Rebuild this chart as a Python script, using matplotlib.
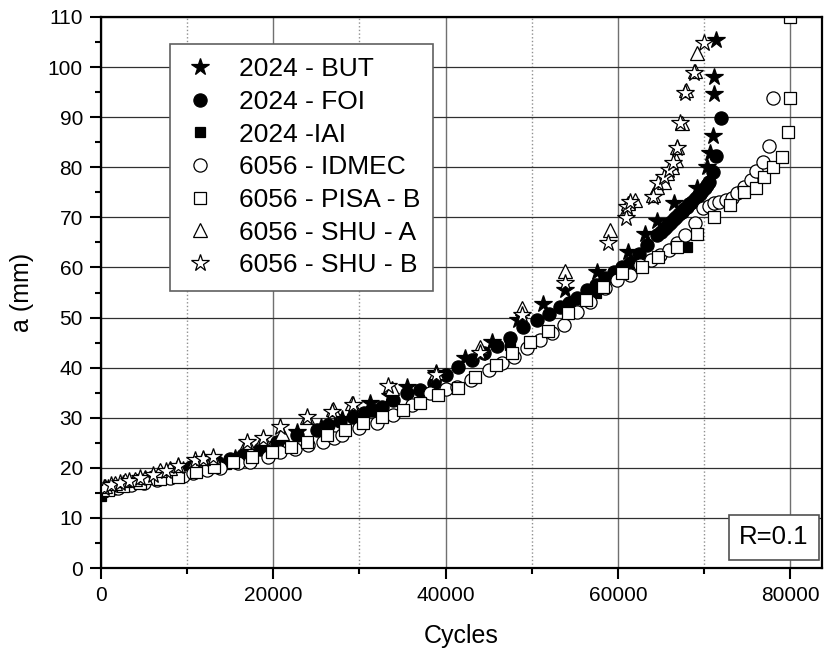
import numpy as np
import matplotlib
matplotlib.use("Agg")
import matplotlib.pyplot as plt
from matplotlib.ticker import MultipleLocator

plt.rcParams['font.family'] = ['Liberation Sans', 'DejaVu Sans']

# crack length a (mm) vs cycles (cycles in thousands)
but_x = [0.8, 2.5, 4.5, 7, 9.5, 12.5, 15.5, 18.5, 20.5, 22.8, 25.5, 28, 31.2, 33.5, 35.5, 38.9, 42.3,
         45.4, 48.4, 51.3, 53.9, 57.6, 61.2, 63.1, 64.6, 66.5, 69.2, 70.3, 70.7, 71.0, 71.2, 71.2, 71.4]
but_y = [16.0, 16.8, 17.6, 18.6, 19.6, 20.8, 22.0, 23.6, 24.8, 27.1, 28.2, 29.8, 32.9, 34.3, 36.1, 38.9, 41.9,
         45.1, 49.5, 52.7, 55.5, 59.1, 63.1, 66.7, 69.3, 72.8, 75.8, 80.0, 82.8, 86.2, 94.6, 98.0, 105.4]

foi_x = [0.3, 1.5, 3, 4.5, 6, 7.5, 9, 10.5, 12, 13.5, 15, 16.5, 18.5, 20.4, 22.8, 25.1, 26.4, 27.8, 29.3, 30.5,
         31.5, 32.6, 33.9, 35.5, 37, 38.6, 40, 41.5, 43.1, 44.5, 46, 47.5, 49, 50.6, 52, 53.3, 54.3, 55.3, 56.4, 57.5,
         58.5, 59.5, 60.5, 61.4, 62.5, 63.4, 64.6, 65.0, 65.3, 65.6, 65.9, 66.2, 66.5, 66.8, 67.1, 67.4, 67.7, 68.0,
         68.3, 68.6, 68.9, 69.2, 69.5, 69.8, 70.1, 70.4, 70.6, 71.0, 71.4, 72.0]
foi_y = [15.3, 16.0, 16.8, 17.5, 18.1, 18.8, 19.5, 20.1, 20.7, 21.2, 21.8, 22.6, 23.8, 25.1, 26.5, 27.5, 28.5, 29.3,
         30.1, 31.0, 31.6, 32.1, 33.5, 34.9, 35.5, 36.9, 38.5, 40.1, 41.5, 43.0, 44.3, 45.9, 48.1, 49.5, 50.8, 52.1,
         53.0, 53.9, 55.5, 56.5, 57.8, 59.1, 60.0, 60.8, 62.7, 64.5, 66.5, 67.1, 67.6, 68.1, 68.6, 69.1, 69.6, 70.1,
         70.6, 71.1, 71.6, 72.1, 72.6, 73.1, 73.6, 74.1, 74.7, 75.2, 75.8, 76.4, 77.0, 79.0, 82.2, 89.8]

iai_x = [0, 14.5, 30.0, 47.5, 57.5, 68.0]
iai_y = [14.3, 20.8, 28.6, 44.5, 55.0, 64.1]

idmec_x = [0.5, 2, 3.5, 5, 6.5, 8, 9.5, 10.7, 12.3, 13.8, 15.9, 17.3, 19.4, 20.8, 22.5, 24, 25.8, 27, 28, 29.9,
           32, 33.9, 36.1, 38.2, 40, 41.3, 42.9, 45, 46.6, 47.9, 49.5, 51, 52.3, 53.7, 55.3, 56.8, 58.5, 59.9, 61.4,
           62.6, 63.8, 64.9, 65.9, 66.9, 67.8, 69, 69.9, 70.6, 71.2, 71.8, 72.5, 73.2, 73.8, 74.6, 75.4, 76, 76.8,
           77.5, 78]
idmec_y = [15.5, 16.0, 16.5, 17.0, 17.5, 17.9, 18.3, 19.0, 19.6, 20.0, 20.9, 21.2, 22.2, 23.2, 23.8, 24.5, 25.1,
           26.0, 26.5, 27.9, 28.9, 30.5, 32.5, 34.9, 35.8, 36.1, 37.5, 39.5, 40.9, 42.1, 43.9, 45.5, 47.0, 48.5,
           51.1, 53.1, 55.9, 57.5, 58.5, 60.5, 61.5, 62.5, 63.5, 64.9, 66.5, 68.9, 71.8, 72.3, 72.8, 73.1, 73.5,
           73.8, 74.8, 76.0, 77.4, 79.2, 81.0, 84.3, 93.8]

pisa_x = [0.8, 2.5, 4.5, 6.9, 8.9, 11, 13.1, 15.3, 17.5, 19.9, 22, 23.9, 26.2, 28.3, 30.4, 32.6, 35.1, 37, 39.1,
          41.5, 43.4, 45.8, 47.7, 49.8, 51.9, 54.2, 56.3, 58.3, 60.5, 62.8, 64.7, 66.9, 69.2, 71.2, 73, 74.6, 76,
          77, 78, 79.1, 79.7, 80, 80]
pisa_y = [15.6, 16.3, 17.0, 17.8, 18.2, 19.2, 20.2, 21.2, 22.2, 23.2, 24.2, 25.1, 26.5, 27.5, 28.9, 30.1, 31.5,
          32.9, 34.5, 35.9, 38.1, 40.5, 42.9, 45.2, 47.3, 50.9, 53.5, 56.1, 58.9, 60.1, 62.1, 64.1, 66.7, 70.0,
          72.5, 75.0, 75.8, 78.0, 80.0, 82.0, 87.0, 93.8, 110]

shua_x = [0.5, 1.6, 2.8, 3.9, 5.1, 6.9, 8.0, 8.9, 10.9, 11.8, 13.0, 17.0, 18.8, 21.0, 23.9, 26.9, 29.1, 33.8,
          38.9, 44.0, 48.9, 53.9, 59.1, 60.9, 61.2, 62.0, 64.1, 64.6, 65.3, 65.7, 66.3, 66.7, 66.9, 67.5, 67.9,
          68.9, 69.2]
shua_y = [16.4, 17.0, 17.6, 17.8, 18.2, 19.6, 20.0, 20.6, 21.6, 22.0, 22.2, 25.1, 25.9, 26.9, 30.1, 31.7, 33.0,
          35.9, 39.1, 44.1, 51.9, 59.3, 67.5, 71.5, 72.8, 73.5, 74.5, 76.0, 77.1, 78.8, 80.0, 81.4, 84.0, 88.8,
          95.4, 99.2, 102.8]

shub_x = [0.3, 1.2, 2.2, 3.3, 4.5, 6.0, 7.5, 8.9, 10.9, 11.8, 13.0, 17.0, 18.8, 20.8, 23.9, 26.8, 29.2, 33.3,
          38.9, 44.0, 48.9, 53.9, 58.9, 60.9, 61.1, 61.4, 64.1, 64.7, 65.3, 65.9, 66.4, 66.9, 67.2, 67.8, 68.8, 70.0]
shub_y = [16.0, 16.5, 17.0, 17.4, 17.9, 18.6, 19.3, 20.4, 21.6, 21.8, 22.2, 25.1, 25.9, 28.1, 30.1, 31.1, 32.5,
          36.3, 38.5, 42.9, 50.5, 56.9, 64.9, 69.9, 72.1, 73.1, 74.1, 76.8, 78.0, 79.4, 80.8, 83.8, 88.8, 94.8,
          98.8, 104.8]

fig = plt.figure(figsize=(8.25, 6.54), dpi=100)
ax = fig.add_axes([101/825, 86/654, 721/825, 551/654])

series = [
    (but_x, but_y, '2024 - BUT', '*', 'black', 13),
    (foi_x, foi_y, '2024 - FOI', 'o', 'black', 9.5),
    (iai_x, iai_y, '2024 -IAI', 's', 'black', 7.5),
    (idmec_x, idmec_y, '6056 - IDMEC', 'o', 'white', 9.5),
    (pisa_x, pisa_y, '6056 - PISA - B', 's', 'white', 8.5),
    (shua_x, shua_y, '6056 - SHU - A', '^', 'white', 10.5),
    (shub_x, shub_y, '6056 - SHU - B', '*', 'white', 13),
]
for xs, ys, lab, mk, fc, ms in series:
    ax.plot(np.array(xs) * 1000, ys, linestyle='none', marker=mk, markersize=ms,
            markerfacecolor=fc, markeredgecolor='black', markeredgewidth=0.9, label=lab)

ax.set_xlim(0, 83700)
ax.set_ylim(0, 110)
ax.xaxis.set_major_locator(MultipleLocator(20000))
ax.xaxis.set_minor_locator(MultipleLocator(10000))
ax.yaxis.set_major_locator(MultipleLocator(10))
ax.yaxis.set_minor_locator(MultipleLocator(5))
ax.tick_params(which='major', direction='out', length=8, width=1.5, labelsize=15, pad=5)
ax.tick_params(which='minor', direction='out', length=4, width=1.5)

ax.set_axisbelow(True)
ax.grid(axis='x', which='major', color='#707070', linestyle='-', linewidth=1)
ax.grid(axis='x', which='minor', color='#909090', linestyle=':', linewidth=1)
ax.grid(axis='y', which='major', color='#303030', linestyle='-', linewidth=0.9)
for s in ax.spines.values():
    s.set_linewidth(1.6)

ax.set_xlabel('Cycles', fontsize=18, labelpad=14)
ax.set_ylabel('a (mm)', fontsize=18, labelpad=10)

leg = ax.legend(loc='upper left', bbox_to_anchor=(0.0957, 0.951), borderaxespad=0, fontsize=19,
                frameon=True, fancybox=False, handlelength=1.3, handletextpad=0.8, labelspacing=0.33,
                borderpad=0.5)
leg.get_frame().set_edgecolor('#606060')
leg.get_frame().set_linewidth(1.2)
leg.get_frame().set_alpha(1)

ax.text(0.933, 0.0554, 'R=0.1', transform=ax.transAxes, fontsize=18.5, ha='center', va='center',
        bbox=dict(boxstyle='square,pad=0.4', facecolor='white', edgecolor='#505050', linewidth=1.2))

fig.savefig('out.png', dpi=100)
